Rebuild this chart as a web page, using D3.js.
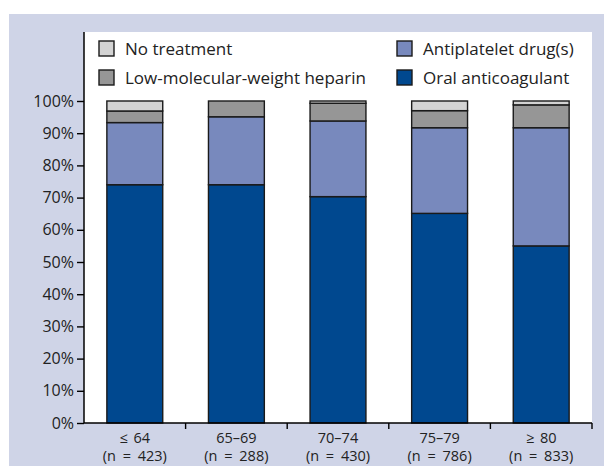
<!DOCTYPE html>
<html>
<head>
<meta charset="utf-8">
<script src="https://cdn.jsdelivr.net/npm/d3@7"></script>
<style>
  body { margin: 0; background: #fff; }
  svg { display: block; font-family: "Open Sans", "Noto Sans", sans-serif; }
</style>
</head>
<body>
<div id="chart"></div>
<script>
// age groups and segment shares (%)
const ageGroups = ["≤ 64", "65–69", "70–74", "75–79", "≥ 80"];
const groupSizes = ["(n = 423)", "(n = 288)", "(n = 430)", "(n = 786)", "(n = 833)"];
const oralAnticoagulant = [74, 74, 70.3, 65.1, 55];
const antiplatelet = [19.3, 21.1, 23.5, 26.6, 36.7];
const lmwHeparin = [3.6, 4.9, 5.5, 5.3, 7.1];
const noTreatment = [3.1, 0, 0.7, 3.0, 1.2];
const yTicks = [0, 10, 20, 30, 40, 50, 60, 70, 80, 90, 100];

const seriesKeys = ["oac", "ap", "lmwh", "none"];
const seriesColors = { oac: "#00488f", ap: "#7889bd", lmwh: "#969696", none: "#d3d3d3" };

const width = 604, height = 466;
const margin = { top: 101, right: 12, bottom: 43, left: 84 };
const innerW = width - margin.left - margin.right;
const innerH = height - margin.top - margin.bottom;

const svg = d3.select("#chart").append("svg")
    .attr("width", width)
    .attr("height", height);

// lavender frame + white plot panel
svg.append("rect").attr("x", 9).attr("y", 14).attr("width", width - 9).attr("height", height - 14)
    .attr("fill", "#cfd4e7");
svg.append("rect").attr("x", margin.left).attr("y", 32).attr("width", innerW).attr("height", margin.top - 32 + innerH)
    .attr("fill", "#ffffff");

const g = svg.append("g").attr("transform", "translate(" + margin.left + "," + margin.top + ")");

const table = ageGroups.map((a, i) => ({
    group: a, oac: oralAnticoagulant[i], ap: antiplatelet[i], lmwh: lmwHeparin[i], none: noTreatment[i]
}));
const stacked = d3.stack().keys(seriesKeys)(table);

const x = d3.scaleBand().domain(ageGroups).range([0, innerW]).paddingInner(0.45).paddingOuter(0.225);
const y = d3.scaleLinear().domain([0, 100]).range([innerH, 0]);

// bars
g.selectAll("g.layer")
    .data(stacked)
    .enter().append("g")
    .attr("class", "layer")
    .attr("fill", d => seriesColors[d.key])
    .selectAll("rect")
    .data(d => d.filter(s => s[1] - s[0] > 0))
    .enter().append("rect")
    .attr("x", d => x(d.data.group))
    .attr("y", d => y(d[1]))
    .attr("width", x.bandwidth())
    .attr("height", d => y(d[0]) - y(d[1]))
    .attr("stroke", "#1a1a1a")
    .attr("stroke-width", 1.4);

// y axis
const yAxis = g.append("g")
    .call(d3.axisLeft(y).tickValues(yTicks).tickFormat(d => d + "%").tickSize(7).tickPadding(3));
yAxis.select(".domain").attr("d", "M0," + (32 - margin.top) + "V" + innerH);

// x axis: ticks at band boundaries
const xAxis = g.append("g").attr("transform", "translate(0," + innerH + ")")
    .call(d3.axisBottom(x).tickSize(0).tickFormat(""));
xAxis.select(".domain").attr("d", "M0,0H" + innerW);
const step = x.step();
xAxis.selectAll("line.bound")
    .data(d3.range(1, ageGroups.length + 1))
    .enter().append("line")
    .attr("class", "bound")
    .attr("x1", d => d * step).attr("x2", d => d * step)
    .attr("y1", 0).attr("y2", 6)
    .attr("stroke", "#000").attr("stroke-width", 1.4);

[yAxis, xAxis].forEach(a => {
    a.selectAll(".domain").attr("stroke", "#000").attr("stroke-width", 1.5);
    a.selectAll(".tick line").attr("stroke", "#000").attr("stroke-width", 1.4);
    a.selectAll("text").attr("fill", "#222").style("font-size", "16px")
        .style("font-family", "'Open Sans', 'Noto Sans', sans-serif");
});

// category labels (two lines)
ageGroups.forEach((a, i) => {
    const cx = x(a) + x.bandwidth() / 2;
    g.append("text").attr("x", cx).attr("y", innerH + 20)
        .attr("text-anchor", "middle").attr("fill", "#222")
        .style("font-size", "14.5px").style("word-spacing", "2px").text(a);
    g.append("text").attr("x", cx).attr("y", innerH + 38)
        .attr("text-anchor", "middle").attr("fill", "#222")
        .style("font-size", "14.5px").style("word-spacing", "3px").text(groupSizes[i]);
});

// legend
const legendItems = [
    { key: "none", label: "No treatment", x: 99, y: 41 },
    { key: "lmwh", label: "Low-molecular-weight heparin", x: 99, y: 70 },
    { key: "ap", label: "Antiplatelet drug(s)", x: 397, y: 41 },
    { key: "oac", label: "Oral anticoagulant", x: 397, y: 70 }
];
const legend = svg.append("g");
legendItems.forEach(it => {
    legend.append("rect").attr("x", it.x).attr("y", it.y).attr("width", 15).attr("height", 15)
        .attr("fill", seriesColors[it.key]).attr("stroke", "#1a1a1a").attr("stroke-width", 1.4);
    legend.append("text").attr("x", it.x + 26).attr("y", it.y + 14)
        .attr("fill", "#222").style("font-size", "17px").text(it.label);
});
</script>
</body>
</html>
